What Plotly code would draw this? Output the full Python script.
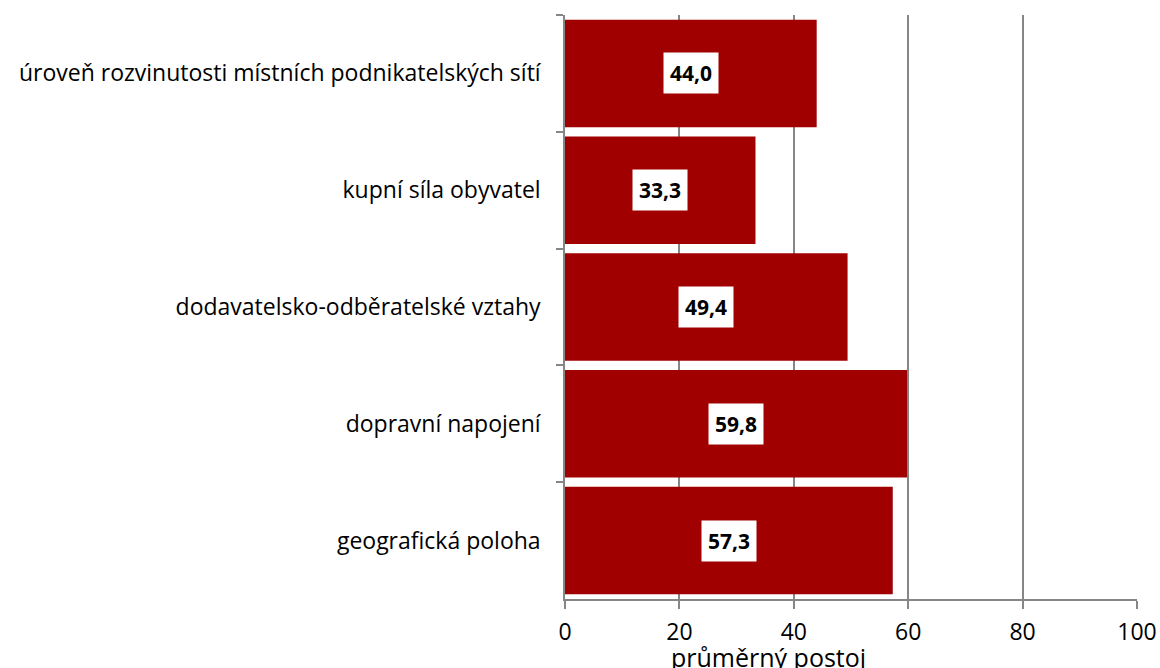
import plotly.graph_objects as go

# data
categories = [
    "úroveň rozvinutosti místních podnikatelských sítí",
    "kupní síla obyvatel",
    "dodavatelsko-odběratelské vztahy",
    "dopravní napojení",
    "geografická poloha",
]
values = [44.0, 33.3, 49.4, 59.8, 57.3]
x_ticks = [0, 20, 40, 60, 80, 100]
x_title = "průměrný postoj"

bar_color = "#A00000"
axis_color = "#868686"
font_family = "'Open Sans', 'Noto Sans', sans-serif"

fig = go.Figure(go.Bar(
    x=values, y=categories, orientation="h",
    marker=dict(color=bar_color, line=dict(width=0)),
    hoverinfo="x+y",
))

# white value boxes in the middle of each bar
for cat, v in zip(categories, values):
    fig.add_annotation(
        x=v / 2, y=cat, text="<b>" + f"{v:.1f}".replace(".", ",") + "</b>",
        showarrow=False, bgcolor="white", borderpad=6,
        font=dict(family=font_family, size=21, color="black"),
    )

# axis title sits left of centre in the original, so place it by hand
fig.add_annotation(
    xref="paper", yref="paper", x=0.355, y=-0.066,
    xanchor="center", yanchor="top", showarrow=False,
    text=x_title, font=dict(family=font_family, size=25, color="black"),
)

fig.update_layout(
    width=1160, height=668,
    margin=dict(l=565, r=23, t=15, b=69, autoexpand=False),
    paper_bgcolor="white", plot_bgcolor="white",
    bargap=0.08, showlegend=False,
    font=dict(family=font_family, color="black"),
    xaxis=dict(
        range=[0, 100], tickvals=x_ticks, ticktext=[str(t) for t in x_ticks],
        showgrid=True, gridcolor=axis_color, gridwidth=1.5,
        showline=True, linecolor=axis_color, linewidth=1.5,
        ticks="outside", ticklen=8, tickcolor=axis_color, tickwidth=1.5,
        tickfont=dict(size=23), zeroline=False, ticklabelstandoff=4,
        automargin=False,
    ),
    yaxis=dict(
        categoryorder="array", categoryarray=categories, autorange="reversed",
        showgrid=False, showline=True, linecolor=axis_color, linewidth=1.5,
        ticks="outside", ticklen=7, tickcolor=axis_color, tickwidth=1.5,
        tickson="boundaries", ticklabelstandoff=18,
        tickfont=dict(size=23), automargin=False,
    ),
)

# the page body has a default margin; drop it so the figure sits at 0,0
fig.write_html(
    "out.html",
    config={"displayModeBar": False},
    post_script="document.body.style.margin='0';document.body.style.overflow='hidden';",
)
